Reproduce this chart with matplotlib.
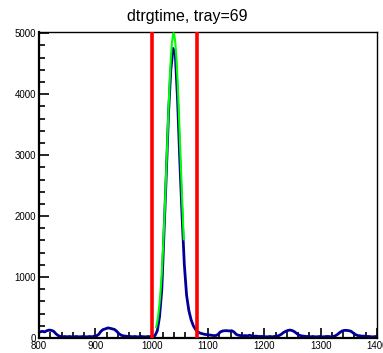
import numpy as np
import matplotlib
matplotlib.use("Agg")
import matplotlib.pyplot as plt
from matplotlib.ticker import MultipleLocator

title = "dtrgtime, tray=69"
x_min, x_max, bin_width = 800, 1400, 4
counts = [
    100, 110, 100, 120, 130, 125, 110, 70, 40,
    25, 20, 25, 20, 25, 20, 20, 25, 20, 20, 25, 20, 20, 25, 20, 30, 35,
    60, 110, 140, 150, 165, 160, 150, 140, 110, 70, 45,
    35, 30, 25, 25, 20, 25, 20, 20, 25, 20, 20, 25, 20, 25,
    40, 120, 350, 800, 1750, 2700, 3700, 4400, 4750, 4650, 3900, 2900, 2000, 1200,
    700, 450, 300, 200, 140, 100, 80, 70, 60, 55, 50, 45, 40, 40, 60,
    100, 115, 120, 120, 115, 120, 100, 60,
    45, 40, 35, 40, 35, 45, 35, 30, 30, 25, 25, 25, 20, 20, 25, 20, 25, 30, 40,
    60, 90, 110, 125, 130, 120, 100, 70, 45,
    35, 30, 25, 25, 20, 25, 20, 20, 25, 20, 20, 25, 25, 20, 25, 35,
    60, 90, 115, 125, 125, 120, 110, 80, 55,
    40, 35, 30, 30, 25, 25, 20, 20, 25,
]
fit_x = [1008, 1010, 1012, 1014, 1016, 1018, 1020, 1022, 1024, 1026, 1028, 1030, 1032,
         1034, 1036, 1038, 1039, 1040, 1042, 1044, 1046, 1048, 1050, 1052, 1054, 1056, 1057]
fit_y = [177, 270, 400, 570, 795, 1080, 1430, 1840, 2290, 2780, 3280, 3775, 4220,
         4585, 4845, 4983, 5000, 4983, 4845, 4585, 4220, 3775, 3280, 2780, 2290, 1840, 1620]
cut_lines = [1001, 1081]

edges = np.arange(x_min, x_max + bin_width, bin_width)
assert len(edges) == len(counts) + 1
centers = (edges[:-1] + edges[1:]) / 2
xs = np.concatenate([[x_min], centers, [x_max]])
ys = np.concatenate([[counts[0]], counts, [counts[-1]]])

fig = plt.figure(figsize=(3.83, 3.53), dpi=100)
ax = fig.add_axes([39/383, 15/353, 338/383, 306/353])
plt.rcParams['font.family'] = ['Liberation Sans', 'DejaVu Sans']

ax.plot(xs, ys, color="#000099", lw=2.0, zorder=2, solid_joinstyle="round")
ax.plot(fit_x, fit_y, color="#00ff00", lw=1.5, zorder=3)
for c in cut_lines:
    ax.axvline(c, color="#ff0000", lw=2.6, zorder=4)

ax.set_xlim(x_min, x_max)
ax.set_ylim(0, 5020)
ax.xaxis.set_major_locator(MultipleLocator(100))
ax.xaxis.set_minor_locator(MultipleLocator(20))
ax.yaxis.set_major_locator(MultipleLocator(1000))
ax.yaxis.set_minor_locator(MultipleLocator(200))
ax.tick_params(which="both", direction="in", top=False, right=False, width=1.2,
               labelsize=7, pad=2)
ax.tick_params(which="major", length=7)
ax.tick_params(which="minor", length=4)
for lab in ax.get_xticklabels() + ax.get_yticklabels():
    lab.set_family(['Liberation Sans', 'DejaVu Sans'])
for s in ["left", "bottom"]:
    ax.spines[s].set_linewidth(1.6)
for s in ["top", "right"]:
    ax.spines[s].set_linewidth(1.0)

fig.text(187/383, 1 - 16/353, title, ha="center", va="center", fontsize=11.5,
         family=['Liberation Sans', 'DejaVu Sans'])

fig.savefig("out.png", dpi=100)
